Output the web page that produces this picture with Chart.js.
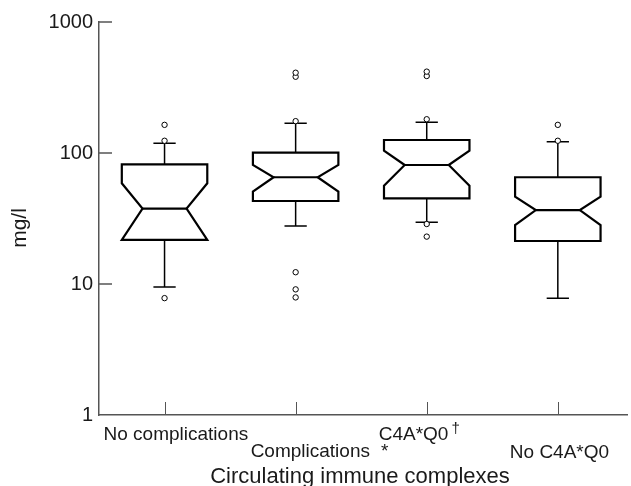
<!DOCTYPE html>
<html>
<head>
<meta charset="utf-8">
<script src="https://cdn.jsdelivr.net/npm/chart.js@4.4.1/dist/chart.umd.min.js"></script>
<style>
  html, body { margin: 0; padding: 0; background: #fff; }
</style>
</head>
<body>
<canvas id="chart" width="631" height="486"></canvas>
<script>
// Values (mg/l, log axis)
const groups = ['No complications', 'Complications', 'C4A*Q0', 'No C4A*Q0'];
const groupMarks = ['', '*', '†', ''];
const whiskerLow = [9.5, 27.7, 29.6, 7.8];
const q1 = [21.7, 43, 45.1, 21.3];
const notchLow = [21.7, 50.7, 56.3, 28.2];
const medians = [37.6, 65.3, 81, 36.7];
const notchHigh = [58.7, 81, 104, 46.4];
const q3 = [82, 100.5, 125.7, 65.3];
const whiskerHigh = [118.6, 168.6, 171.5, 122];
const outliers = [
    [7.8, 124, 164],
    [7.9, 9.1, 12.3, 175, 382, 410],
    [23, 28.7, 181, 387, 418],
    [124, 164]
];
const yTicks = [1, 10, 100, 1000];

const FONT = '"Liberation Sans", Arial, sans-serif';
const AXIS_COLOR = '#555';
const TEXT_COLOR = '#1a1a1a';

// outlier points for the scatter dataset
const outlierPoints = [];
outliers.forEach((vals, i) => {
    vals.forEach(v => outlierPoints.push({ x: i + 1, y: v }));
});

// label placement relative to each category tick
const labelDx = [-61, -45, -48, -48];
const labelDy = [25, 42, 25, 43];

const boxPlugin = {
    id: 'notchedBoxes',
    beforeDatasetsDraw(chart) {
        const ctx = chart.ctx;
        const xs = chart.scales.x;
        const ys = chart.scales.y;
        const unit = xs.getPixelForValue(2) - xs.getPixelForValue(1);
        const hb = unit * 0.326;
        const hn = unit * 0.168;
        const hc = unit * 0.085;

        ctx.save();
        ctx.strokeStyle = '#000';
        groups.forEach((g, i) => {
            const cx = xs.getPixelForValue(i + 1);
            const yQ1 = ys.getPixelForValue(q1[i]);
            const yQ3 = ys.getPixelForValue(q3[i]);
            const yMed = ys.getPixelForValue(medians[i]);
            const yNl = ys.getPixelForValue(notchLow[i]);
            const yNh = ys.getPixelForValue(notchHigh[i]);
            const yWl = ys.getPixelForValue(whiskerLow[i]);
            const yWh = ys.getPixelForValue(whiskerHigh[i]);

            // whiskers
            ctx.lineWidth = 1.5;
            ctx.beginPath();
            ctx.moveTo(cx, yQ3);
            ctx.lineTo(cx, yWh);
            ctx.moveTo(cx - hc, yWh);
            ctx.lineTo(cx + hc, yWh);
            ctx.moveTo(cx, yQ1);
            ctx.lineTo(cx, yWl);
            ctx.moveTo(cx - hc, yWl);
            ctx.lineTo(cx + hc, yWl);
            ctx.stroke();

            // notched box
            ctx.lineWidth = 2.2;
            ctx.lineJoin = 'miter';
            ctx.beginPath();
            ctx.moveTo(cx - hb, yQ3);
            ctx.lineTo(cx + hb, yQ3);
            ctx.lineTo(cx + hb, yNh);
            ctx.lineTo(cx + hn, yMed);
            ctx.lineTo(cx + hb, yNl);
            ctx.lineTo(cx + hb, yQ1);
            ctx.lineTo(cx - hb, yQ1);
            ctx.lineTo(cx - hb, yNl);
            ctx.lineTo(cx - hn, yMed);
            ctx.lineTo(cx - hb, yNh);
            ctx.closePath();
            ctx.fillStyle = '#fff';
            ctx.fill();
            ctx.stroke();

            // median
            ctx.beginPath();
            ctx.moveTo(cx - hn, yMed);
            ctx.lineTo(cx + hn, yMed);
            ctx.stroke();
        });
        ctx.restore();
    },
    afterDraw(chart) {
        const ctx = chart.ctx;
        const xs = chart.scales.x;
        const ys = chart.scales.y;
        const area = chart.chartArea;

        ctx.save();
        // inward y ticks
        ctx.strokeStyle = AXIS_COLOR;
        ctx.lineWidth = 1.5;
        yTicks.forEach(v => {
            if (v === ys.min) return;
            const y = ys.getPixelForValue(v);
            ctx.beginPath();
            ctx.moveTo(area.left, y);
            ctx.lineTo(area.left + 13, y);
            ctx.stroke();
        });

        // upward x ticks
        ctx.lineWidth = 1;
        groups.forEach((g, i) => {
            const x = Math.round(xs.getPixelForValue(i + 1)) + 0.5;
            ctx.beginPath();
            ctx.moveTo(x, area.bottom);
            ctx.lineTo(x, area.bottom - 13);
            ctx.stroke();
        });

        // category labels (staggered)
        ctx.fillStyle = TEXT_COLOR;
        ctx.textBaseline = 'alphabetic';
        ctx.textAlign = 'left';
        groups.forEach((g, i) => {
            const x = xs.getPixelForValue(i + 1) + labelDx[i];
            const y = area.bottom + labelDy[i];
            ctx.font = '19px ' + FONT;
            ctx.fillText(g, x, y);
            const w = ctx.measureText(g).width;
            const mark = groupMarks[i];
            if (mark === '†') {
                ctx.font = '15px ' + FONT;
                ctx.fillText(mark, x + w + 3, y - 7);
            } else if (mark) {
                ctx.fillText(mark, x + w + 11, y);
            }
        });

        // x title
        ctx.font = '22px ' + FONT;
        ctx.textAlign = 'center';
        ctx.fillText('Circulating immune complexes', 360, 483);

        // y title
        ctx.translate(20, 228);
        ctx.rotate(-Math.PI / 2);
        ctx.font = '21px ' + FONT;
        ctx.textBaseline = 'middle';
        ctx.fillText('mg/l', 0, 0);
        ctx.restore();
    }
};

new Chart(document.getElementById('chart'), {
    type: 'scatter',
    data: {
        datasets: [{
            data: outlierPoints,
            pointRadius: 2.7,
            pointHoverRadius: 2.7,
            pointBorderWidth: 1,
            pointBackgroundColor: '#fff',
            pointBorderColor: '#000'
        }]
    },
    options: {
        responsive: false,
        animation: false,
        devicePixelRatio: 1,
        layout: { padding: { top: 22, right: 0, left: 0, bottom: 0 } },
        plugins: {
            legend: { display: false },
            tooltip: { enabled: false }
        },
        scales: {
            x: {
                type: 'linear',
                min: 0.5,
                max: 4.53,
                grid: { display: false },
                ticks: { display: false },
                border: { display: true, color: AXIS_COLOR, width: 1.5 },
                afterFit(scale) { scale.height = 71; }
            },
            y: {
                type: 'logarithmic',
                min: 1,
                max: 1000,
                afterBuildTicks(scale) {
                    scale.ticks = yTicks.map(v => ({ value: v }));
                },
                grid: { display: false, drawTicks: false },
                border: { display: true, color: AXIS_COLOR, width: 1.5 },
                ticks: {
                    color: TEXT_COLOR,
                    padding: 6,
                    font: { family: FONT, size: 20 },
                    callback: v => String(v)
                },
                afterFit(scale) { scale.width = 99; }
            }
        }
    },
    plugins: [boxPlugin]
});
</script>
</body>
</html>
